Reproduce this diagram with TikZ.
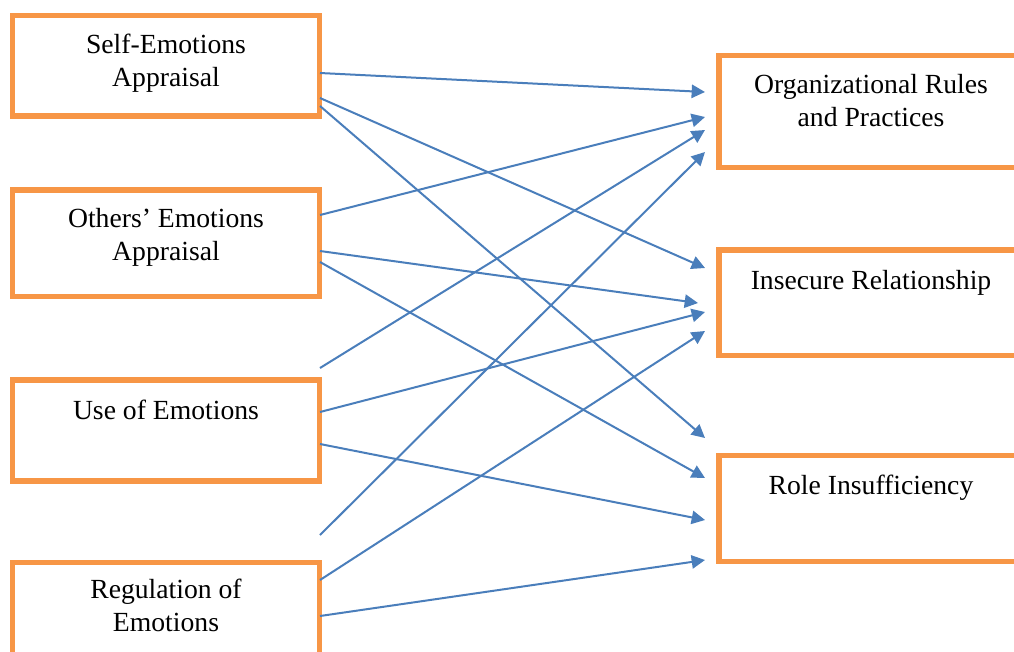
\documentclass[tikz,border=0pt]{standalone}
\usepackage{fontspec}
\setmainfont{Liberation Serif}
\usetikzlibrary{arrows.meta,fit,calc}
\definecolor{boxorange}{HTML}{F79646}
\definecolor{lineblue}{HTML}{4A7EBB}
\begin{document}
\begin{tikzpicture}[x=0.75pt,y=-0.75pt,
  box/.style={draw=boxorange, line width=4pt, inner sep=0pt},
  lbl/.style={font=\fontsize{20.75}{24.75}\selectfont, align=center, anchor=base, inner sep=0pt},
  arr/.style={draw=lineblue, line width=1.5pt, -{Triangle[length=10pt,width=10pt]}}]
\path[use as bounding box] (0,0) rectangle (1014,651);
\clip (0,0) rectangle (1014,651);
% left boxes
\node[box, fit={(12.5,15.5) (319.5,116)}] (se) {};
\node[box, fit={(12.5,190) (319.5,296.5)}] (oe) {};
\node[box, fit={(12.5,380) (319.5,481)}] (ue) {};
\node[box, fit={(12.5,562.5) (319.5,670)}] (re) {};
% right boxes
\node[box, fit={(719,55.5) (1023,167.5)}] (orp) {};
\node[box, fit={(719,250) (1023,355.5)}] (ir) {};
\node[box, fit={(719,455.5) (1023,561.5)}] (ri) {};
% labels (base anchor = baseline of the last line)
\node[lbl] (seT) at ($(se.north)+(0,74)$) {Self-Emotions\\Appraisal};
\node[lbl] (oeT) at ($(oe.north)+(0,73)$) {Others’ Emotions\\Appraisal};
\node[lbl] (ueT) at ($(ue.north)+(0,42)$) {Use of Emotions};
\node[lbl] (reT) at ($(re.north)+(0,72)$) {Regulation of\\Emotions};
\node[lbl] (orpT) at ($(orp.north)+(0,74)$) {Organizational Rules\\and Practices};
\node[lbl] (irT) at ($(ir.north)+(0,42)$) {Insecure Relationship};
\node[lbl] (riT) at ($(ri.north)+(0,41.5)$) {Role Insufficiency};
% start points
\coordinate (s1) at (320,73);
\coordinate (s2) at (320,98);
\coordinate (s3) at (320,106);
\coordinate (o1) at (320,215);
\coordinate (o2) at (320,251);
\coordinate (o3) at (320,262);
\coordinate (u0) at (320,368);
\coordinate (u1) at (320,412);
\coordinate (u2) at (320,444);
\coordinate (r0) at (320,535);
\coordinate (r1) at (320,580);
\coordinate (r2) at (320,616);
% end points
\coordinate (a1) at (705,92);
\coordinate (a2) at (705,117);
\coordinate (a3) at (705,130);
\coordinate (a4) at (705,152);
\coordinate (b1) at (705,268);
\coordinate (b2) at (698,303);
\coordinate (b3) at (705,312);
\coordinate (b4) at (705,331);
\coordinate (c1) at (705,438);
\coordinate (c2) at (705,478);
\coordinate (c3) at (705,520);
\coordinate (c4) at (705,560);
% connectors
\draw[arr] (s1) -- (a1);
\draw[arr] (s2) -- (b1);
\draw[arr] (s3) -- (c1);
\draw[arr] (o1) -- (a2);
\draw[arr] (o2) -- (b2);
\draw[arr] (o3) -- (c2);
\draw[arr] (u0) -- (a3);
\draw[arr] (u1) -- (b3);
\draw[arr] (u2) -- (c3);
\draw[arr] (r0) -- (a4);
\draw[arr] (r1) -- (b4);
\draw[arr] (r2) -- (c4);
\end{tikzpicture}
\end{document}
